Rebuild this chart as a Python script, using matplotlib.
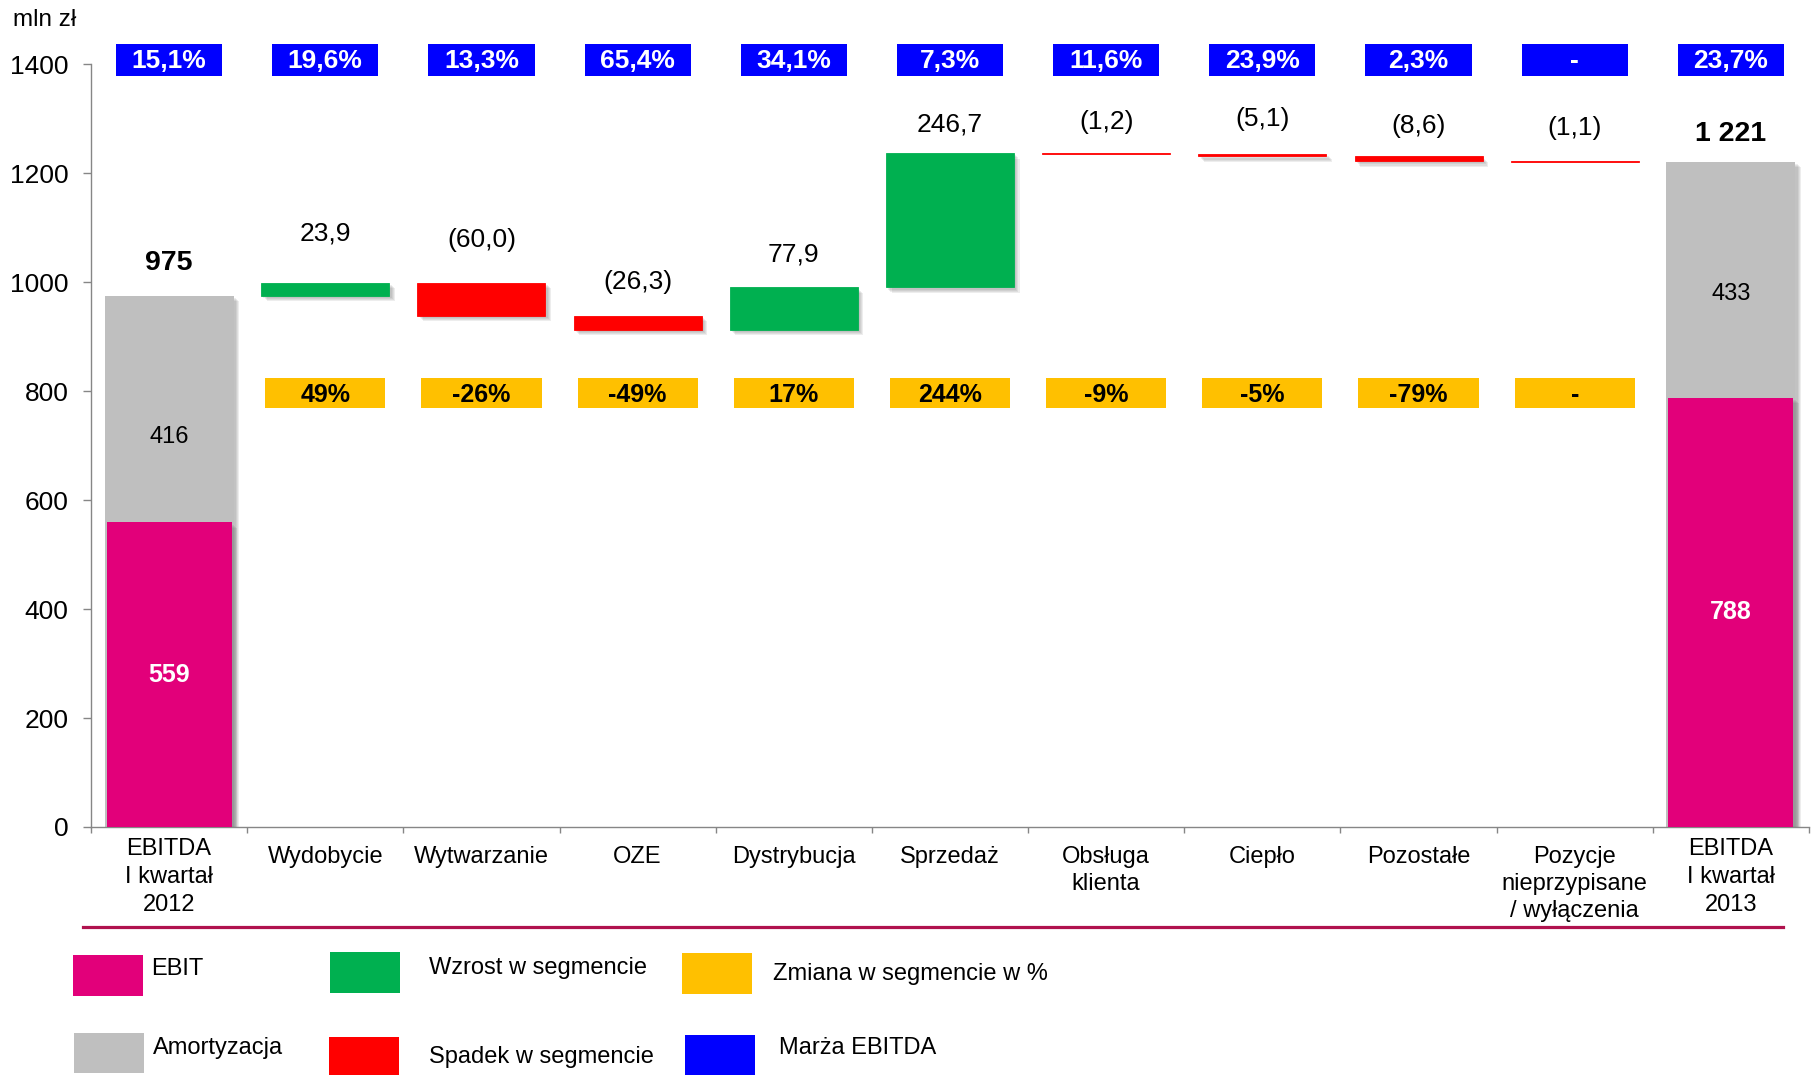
import matplotlib
matplotlib.use('Agg')
import matplotlib.pyplot as plt
import matplotlib.patheffects as pe
from matplotlib.patches import Rectangle
from matplotlib.lines import Line2D
import numpy as np

plt.rcParams['font.family'] = ['Liberation Sans', 'DejaVu Sans']

# ---------------- data ----------------
categories = ["EBITDA\nI kwartał\n2012", "Wydobycie", "Wytwarzanie", "OZE",
              "Dystrybucja", "Sprzedaż", "Obsługa\nklienta", "Ciepło",
              "Pozostałe", "Pozycje\nnieprzypisane\n/ wyłączenia",
              "EBITDA\nI kwartał\n2013"]
ebit = [559, 788]
amortyzacja = [416, 433]
total_labels = ["975", "1 221"]
deltas = [23.9, -60.0, -26.3, 77.9, 246.7, -1.2, -5.1, -8.6, -1.1]
delta_labels = ["23,9", "(60,0)", "(26,3)", "77,9", "246,7", "(1,2)", "(5,1)", "(8,6)", "(1,1)"]
marza = ["15,1%", "19,6%", "13,3%", "65,4%", "34,1%", "7,3%", "11,6%",
         "23,9%", "2,3%", "-", "23,7%"]
zmiana = ["49%", "-26%", "-49%", "17%", "244%", "-9%", "-5%", "-79%", "-"]
yticks = [0, 200, 400, 600, 800, 1000, 1200, 1400]

# ---------------- style ----------------
C_PINK = '#E2007A'
C_GRAY = '#BFBFBF'
C_GREEN = '#00B050'
C_RED = '#FF0000'
C_YELLOW = '#FFC000'
C_BLUE = '#0000FF'
C_AXIS = '#868686'
C_RULE = '#B0124E'

W, H = 1812, 1075
fig = plt.figure(figsize=(W / 100, H / 100), dpi=100)
fig.patch.set_facecolor('white')

def fx(px):
    return px / W

def fy(py):
    return 1 - py / H

ax_left, ax_right, ax_top, ax_bottom = 91, 1809, 64.3, 827
ax = fig.add_axes([fx(ax_left), fy(ax_bottom), fx(ax_right - ax_left), (ax_bottom - ax_top) / H])
ax.set_facecolor('none')

n = len(categories)
x = np.arange(n)
ax.set_xlim(-0.5, n - 0.5)
ax.set_ylim(0, 1400)

# soft (stacked) drop shadow
shadow = [pe.SimplePatchShadow(offset=(o, -o), shadow_rgbFace='#606060', alpha=0.11)
          for o in (4.0, 3.2, 2.4, 1.6)] + [pe.Normal()]

# totals (gray = total, pink = EBIT)
tot_idx = [0, n - 1]
totals = [e + a for e, a in zip(ebit, amortyzacja)]
gb = ax.bar(tot_idx, totals, width=0.826, color=C_GRAY, zorder=2)
pb = ax.bar(tot_idx, ebit, width=0.80, color=C_PINK, zorder=3)
for b in list(gb) + list(pb):
    b.set_path_effects(shadow)

amort_off = [-28, -14]
total_off = [33, 28]
for i, e, a, t, lab, ao, to in zip(tot_idx, ebit, amortyzacja, totals, total_labels,
                                    amort_off, total_off):
    ax.annotate(str(e), (i, e / 2), ha='center', va='center', color='white',
                fontsize=18, fontweight='bold', zorder=5)
    ax.annotate(str(a), (i, e + a / 2), xytext=(0, ao), textcoords='offset pixels',
                ha='center', va='center', color='black', fontsize=17, zorder=5)
    ax.annotate(lab, (i, t), xytext=(0, to), textcoords='offset pixels',
                ha='center', va='center', color='black', fontsize=20.5, fontweight='bold')

# waterfall segments
level = totals[0]
label_off = [49, 43, 34, 33, 28, 31, 35, 30, 33]
for k, (d, lab) in enumerate(zip(deltas, delta_labels)):
    i = k + 1
    bottom = min(level, level + d)
    col = C_GREEN if d > 0 else C_RED
    thin = abs(d) < 2
    b = ax.bar(i, abs(d), bottom=bottom, width=0.82, color=col,
               edgecolor=col, linewidth=0.6, zorder=3)
    if not thin:
        b[0].set_path_effects(shadow)
    ax.annotate(lab, (i, bottom + abs(d)), xytext=(0, label_off[k]),
                textcoords='offset pixels', ha='center', va='center',
                fontsize=19, color='black')
    level += d

# blue margin boxes
for i, lab in enumerate(marza):
    ax.add_patch(Rectangle((i - 0.34, 1378), 0.68, 59, facecolor=C_BLUE,
                           edgecolor='none', clip_on=False, zorder=4))
    ax.text(i, 1406, lab, ha='center', va='center', color='white',
            fontsize=19, fontweight='bold', clip_on=False, zorder=5)

# yellow change boxes
for k, lab in enumerate(zmiana):
    i = k + 1
    ax.add_patch(Rectangle((i - 0.385, 769), 0.77, 55, facecolor=C_YELLOW,
                           edgecolor='none', zorder=4))
    ax.text(i, 793, lab, ha='center', va='center', color='black',
            fontsize=18, fontweight='bold', zorder=5)

# axes styling
for s in ['top', 'right']:
    ax.spines[s].set_visible(False)
for s in ['left', 'bottom']:
    ax.spines[s].set_color(C_AXIS)
    ax.spines[s].set_linewidth(1.0)
ax.set_yticks(yticks)
ax.set_yticklabels([str(v) for v in yticks])
ax.tick_params(axis='y', direction='out', length=5.8, width=1.0, color=C_AXIS,
               labelsize=19, pad=10.5, labelcolor='black')
ax.set_xticks(np.arange(-0.5, n, 1.0))
ax.set_xticklabels([])
ax.tick_params(axis='x', which='major', direction='out', length=4.3, width=1.0, color=C_AXIS)

# category labels (3-line totals sit a little higher than segment labels)
for i, lab in enumerate(categories):
    off = 11 if i in tot_idx else 19
    ls = 1.36 if i in tot_idx else 1.3
    ax.annotate(lab, (i, 0), xycoords=('data', 'axes fraction'), xytext=(0, -off),
                textcoords='offset pixels', ha='center', va='top', fontsize=17,
                linespacing=ls, annotation_clip=False)

fig.text(fx(13), fy(20), "mln zł", ha='left', va='center', fontsize=17.5)

# rule under axis labels
fig.add_artist(Line2D([fx(83), fx(1783)], [fy(927), fy(927)], color=C_RULE, lw=2.3))

# legend
legend_items = [
    (C_PINK, "EBIT", (73, 955, 70, 41), (151, 969)),
    (C_GRAY, "Amortyzacja", (74, 1033, 70, 40), (153, 1048)),
    (C_GREEN, "Wzrost w segmencie", (330, 952, 70, 41), (429, 968)),
    (C_RED, "Spadek w segmencie", (329, 1037, 70, 38), (429, 1057)),
    (C_YELLOW, "Zmiana w segmencie w %", (682, 953, 70, 41), (773, 974)),
    (C_BLUE, "Marża EBITDA", (685, 1035, 70, 40), (779, 1048)),
]
for col, lab, (x0, y0, w, h), (tx, ty) in legend_items:
    fig.add_artist(Rectangle((fx(x0), fy(y0 + h)), w / W, h / H, facecolor=col,
                             edgecolor='none', transform=fig.transFigure))
    fig.text(fx(tx), fy(ty), lab, ha='left', va='center', fontsize=17)

fig.savefig('out.png', dpi=100, facecolor='white')
